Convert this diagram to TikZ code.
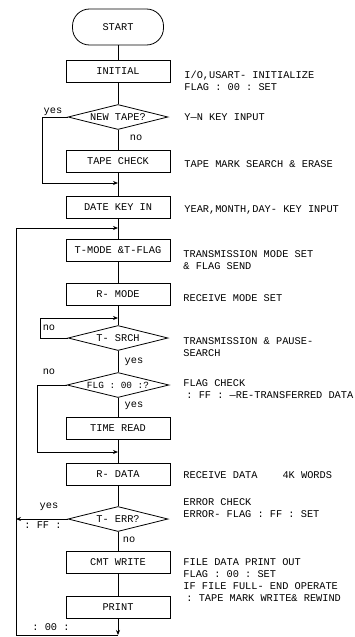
\documentclass[tikz,border=0pt]{standalone}
\usepackage{fontspec}
\setmonofont{Liberation Mono}
\usetikzlibrary{shapes.geometric,arrows.meta}
\begin{document}
\begin{tikzpicture}[x=1pt,y=-1pt,
  font=\ttfamily\fontsize{10.3}{12}\selectfont, line width=0.8pt,
  stepbox/.style={draw, minimum width=104pt, minimum height=22pt, inner sep=0pt},
  decision/.style={draw, diamond, aspect=4, minimum width=100pt, minimum height=25pt, inner sep=0pt},
  term/.style={draw, rounded corners=17pt, minimum width=91pt, minimum height=36pt},
  note/.style={anchor=west, align=left, inner sep=0pt},
  lbl/.style={inner sep=0pt},
  arr/.style={-{Stealth[length=5pt,width=4pt]}}]
\useasboundingbox (0,0) rectangle (355,637);
\fill[white] (0,0) rectangle (355,637);

% flow nodes
\node[term] (start) at (118,27) {START};
\node[stepbox] (init) at (118,71) {INITIAL};
\node[decision, label={center:NEW TAPE?}] (newtape) at (118,117) {};
\node[stepbox] (tapecheck) at (118,161) {TAPE CHECK};
\node[stepbox] (date) at (118,207) {DATE KEY IN};
\node[stepbox] (tmode) at (118,250) {T-MODE \&T-FLAG};
\node[stepbox] (rmode) at (118,294) {R- MODE};
\node[decision, label={center:T- SRCH}] (tsrch) at (118,338) {};
\node[decision, minimum width=102pt, label={[font=\ttfamily\fontsize{9.4}{11}\selectfont]center:FLG : 00 :?}] (flg) at (118,385) {};
\node[stepbox] (time) at (118,428) {TIME READ};
\node[stepbox] (rdata) at (118,474) {R- DATA};
\node[decision, label={center:T- ERR?}] (terr) at (118,519) {};
\node[stepbox] (cmt) at (118,562) {CMT WRITE};
\node[stepbox] (print) at (118,607) {PRINT};

% junction coordinates
\coordinate (j1) at (118,183);
\coordinate (ny) at (42,183);
\coordinate (j2) at (118,228);
\coordinate (loopL) at (16,228);
\coordinate (loopB) at (16,635);
\coordinate (bot) at (118,635);
\coordinate (j3) at (118,318);
\coordinate (sL) at (40,318);
\coordinate (j4) at (118,452);
\coordinate (fL) at (37,452);
\coordinate (eL) at (16,519);

% main line
\draw (start) -- (init);
\draw (init) -- (newtape);
\draw (newtape) -- (tapecheck);
\draw (tapecheck) -- (date);
\draw (date) -- (tmode);
\draw (tmode) -- (rmode);
\draw (rmode) -- (tsrch);
\draw (tsrch) -- (flg);
\draw (flg) -- (time);
\draw (time) -- (rdata);
\draw (rdata) -- (terr);
\draw (terr) -- (cmt);
\draw (cmt) -- (print);
\draw[arr] (print) -- (bot);

% branches
\draw[arr] (newtape.west) -| (ny) -- (j1);
\draw[arr] (bot) -- (loopB) -- (loopL) -- (j2);
\draw[arr] (tsrch.west) -| (sL) -- (j3);
\draw[arr] (flg.west) -| (fL) -- (j4);
\draw[arr] (terr.west) -- (eL);

% branch labels
\node[lbl] (l1) at (53,112) {yes};
\node[lbl] (l2) at (136,138) {no};
\node[lbl] (l3) at (49,328) {no};
\node[lbl] (l4) at (134,362) {yes};
\node[lbl] (l5) at (49,372) {no};
\node[lbl] (l6) at (134,406) {yes};
\node[lbl] (l7) at (49,507) {yes};
\node[lbl] (l8) at (43,525) {: FF :};
\node[lbl] (l9) at (129,540) {no};
\node[lbl] (l10) at (51,627) {: 00 :};

% notes
\node[note] (n1) at (184,80.5) {I/O,USART- INITIALIZE\\FLAG : 00 : SET};
\node[note] (n2) at (184,117) {Y—N KEY INPUT};
\node[note] (n3) at (184,164) {TAPE MARK SEARCH \& ERASE};
\node[note] (n4) at (184,210) {YEAR,MONTH,DAY- KEY INPUT};
\node[note] (n5) at (183,260) {TRANSMISSION MODE SET\\\& FLAG SEND};
\node[note] (n6) at (183,298) {RECEIVE MODE SET};
\node[note] (n7) at (183,347.5) {TRANSMISSION \& PAUSE-\\SEARCH};
\node[note] (n8) at (183,389) {FLAG CHECK\\\hspace{3pt}: FF : —RE-TRANSFERRED DATA};
\node[note] (n9) at (183,475) {RECEIVE DATA\hspace{25pt}4K WORDS};
\node[note] (n10) at (183,508.5) {ERROR CHECK\\ERROR- FLAG : FF : SET};
\node[note] (n11) at (183,580.5) {FILE DATA PRINT OUT\\FLAG : 00 : SET\\IF FILE FULL- END OPERATE\\\hspace{3pt}: TAPE MARK WRITE\& REWIND};
\end{tikzpicture}
\end{document}
